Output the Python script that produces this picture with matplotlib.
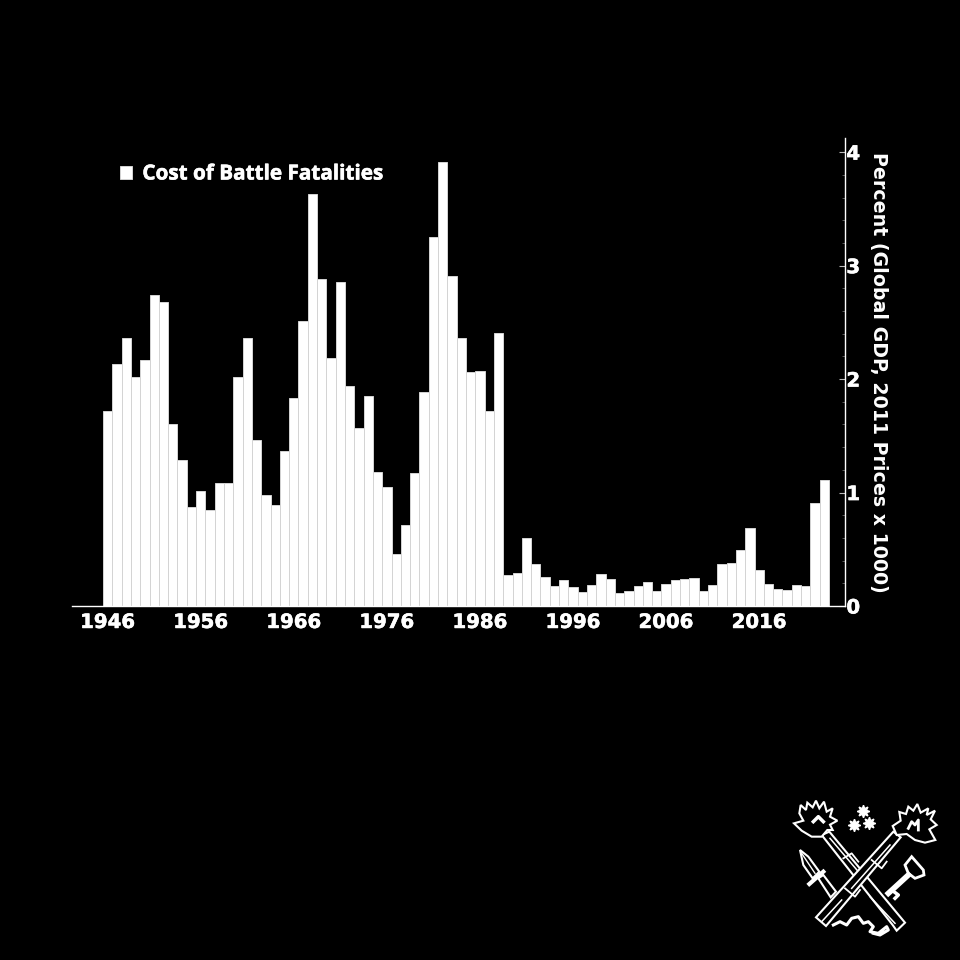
import matplotlib
matplotlib.use("Agg")
import matplotlib.pyplot as plt
import matplotlib.patheffects as pe
import numpy as np
from matplotlib.patches import Polygon

years = list(range(1946, 2024))
cost = [1.72, 2.13, 2.36, 2.02, 2.17, 2.74, 2.68, 1.60, 1.29, 0.87,
        1.01, 0.85, 1.08, 1.085, 2.02, 2.36, 1.46, 0.98, 0.89, 1.37,
        1.83, 2.51, 3.63, 2.885, 2.19, 2.86, 1.94, 1.57, 1.85, 1.18,
        1.05, 0.46, 0.715, 1.17, 1.89, 3.25, 3.91, 2.91, 2.36, 2.065,
        2.07, 1.72, 2.41, 0.27, 0.29, 0.60, 0.37, 0.255, 0.175, 0.23,
        0.17, 0.125, 0.185, 0.28, 0.24, 0.115, 0.13, 0.175, 0.21, 0.13,
        0.195, 0.23, 0.24, 0.245, 0.13, 0.185, 0.37, 0.38, 0.495, 0.69,
        0.32, 0.195, 0.15, 0.14, 0.185, 0.175, 0.91, 1.11]
xticks = [1946, 1956, 1966, 1976, 1986, 1996, 2006, 2016]
yticks = [0, 1, 2, 3, 4]
yminor = [0.2, 0.4, 0.6, 0.8, 1.2, 1.4, 1.6, 1.8, 2.2, 2.4, 2.6, 2.8, 3.2, 3.4, 3.6, 3.8]

heavy = [pe.withStroke(linewidth=0.4, foreground="white")]

fig = plt.figure(figsize=(9.6, 9.6), dpi=100, facecolor="black")
ax = fig.add_axes([72/960, 1-606/960, (845-72)/960, (606-138)/960], facecolor="black")

ax.bar(years, cost, width=1.0, color="white", edgecolor="#d4d4d4", linewidth=0.7, label="Cost of Battle Fatalities")
ax.set_xlim(1942.17, 2025.22)
ax.set_ylim(0, 4.125)

for s in ["top", "left"]:
    ax.spines[s].set_visible(False)
for s in ["bottom", "right"]:
    ax.spines[s].set_color("white")
    ax.spines[s].set_linewidth(1)

ax.yaxis.tick_right()
ax.set_xticks(xticks)
ax.set_yticks(yticks)
ax.set_yticks(yminor, minor=True)
ax.tick_params(axis="x", length=0, pad=5, labelsize=14.2, labelcolor="white")
ax.tick_params(axis="y", which="major", direction="in", length=4, color="#bbbbbb", pad=1, labelsize=14.2, labelcolor="white")
ax.tick_params(axis="y", which="minor", direction="in", length=2, color="#666666")
for lab in ax.get_xticklabels() + ax.get_yticklabels():
    lab.set_fontweight("bold")
    lab.set_path_effects(heavy)

fig.text(879/960, 1-372/960, "Percent (Global GDP, 2011 Prices x 1000)", rotation=270,
         color="white", fontsize=13.7, fontweight="bold", ha="center", va="center")

leg = ax.legend(loc="upper left", bbox_to_anchor=(120/960, 1-163.5/960), bbox_transform=fig.transFigure,
                frameon=False, handlelength=0.58, handleheight=0.58, handletextpad=0.5,
                borderpad=0, borderaxespad=0,
                prop={"family": "Open Sans", "weight": "bold", "size": 14.9})
for t in leg.get_texts():
    t.set_color("white")
    t.set_path_effects(heavy)

# logo, drawn by hand in its own little axes
lg = fig.add_axes([780/960, 1-940/960, 170/960, 150/960], facecolor="none")
lg.set_xlim(0, 510)
lg.set_ylim(450, 0)
lg.axis("off")

def outline(pts, lw=1.5, fill="black", z=2):
    lg.add_patch(Polygon(pts, closed=True, fc=fill, ec="white", lw=lw, zorder=z))

# torch going down to the right
outline([(125, 135), (148, 125), (375, 398), (350, 422), (338, 405)], z=2)
lg.plot([150, 235], [145, 245], color="white", lw=1.1, zorder=3)
lg.plot([270, 345], [320, 400], color="white", lw=1.1, zorder=3)
lg.plot([190, 215, 235], [205, 190, 215], color="white", lw=1.3, zorder=3)
# torch going down to the left
outline([(340, 125), (362, 142), (138, 408), (108, 382)], z=4)
lg.plot([330, 215], [165, 295], color="white", lw=1.1, zorder=5)
lg.plot([185, 125], [330, 395], color="white", lw=1.1, zorder=5)
lg.plot([275, 305, 320], [210, 235, 215], color="white", lw=1.3, zorder=5)
lg.plot([195, 225, 240], [295, 320, 300], color="white", lw=1.3, zorder=5)
# flames
outline([(125, 140), (95, 140), (65, 122), (42, 100), (70, 92), (58, 70), (62, 45), (78, 60),
         (82, 38), (98, 52), (108, 32), (118, 55), (132, 35), (140, 65), (158, 55), (150, 80),
         (172, 92), (150, 104), (158, 120), (142, 120)], z=6)
outline([(350, 135), (338, 108), (362, 92), (358, 66), (378, 72), (385, 50), (400, 62), (412, 42),
         (422, 68), (445, 55), (440, 75), (465, 62), (452, 88), (470, 105), (448, 118), (466, 150),
         (435, 158), (405, 150), (380, 132)], z=6)
lg.plot([100, 115, 125, 130], [95, 80, 90, 95], color="white", lw=2.5, zorder=7)
lg.plot([385, 395, 405, 415, 415], [115, 95, 105, 90, 120], color="white", lw=2, zorder=7)
# stars
for sx, sy in [(250, 63), (222, 104), (268, 100)]:
    lg.plot(sx, sy, marker=(8, 1, 0), ms=9, color="white", mec="white", zorder=7)
# dagger
outline([(60, 180), (85, 200), (118, 245), (98, 265), (70, 225)], z=2)
lg.plot([88, 130], [282, 245], color="white", lw=3, zorder=3)
outline([(115, 265), (130, 255), (168, 305), (152, 322)], z=2)
lg.plot([65, 105], [190, 250], color="white", lw=1, zorder=3)
# key
outline([(375, 225), (395, 200), (430, 240), (432, 255), (405, 265), (385, 250)], lw=2, z=2)
lg.plot([385, 325], [255, 310], color="white", lw=4, zorder=3)
lg.plot([335, 355, 345], [300, 315, 325], color="white", lw=2.5, zorder=3)
# squiggle
squig_x = [160, 180, 200, 215, 235, 250, 265, 280, 270, 295, 320, 325, 300, 280]
squig_y = [405, 395, 405, 385, 380, 400, 395, 410, 425, 430, 410, 420, 435, 430]
lg.plot(squig_x, squig_y, color="white", lw=2.2, zorder=3)

fig.savefig("out.png", dpi=100, facecolor="black")
